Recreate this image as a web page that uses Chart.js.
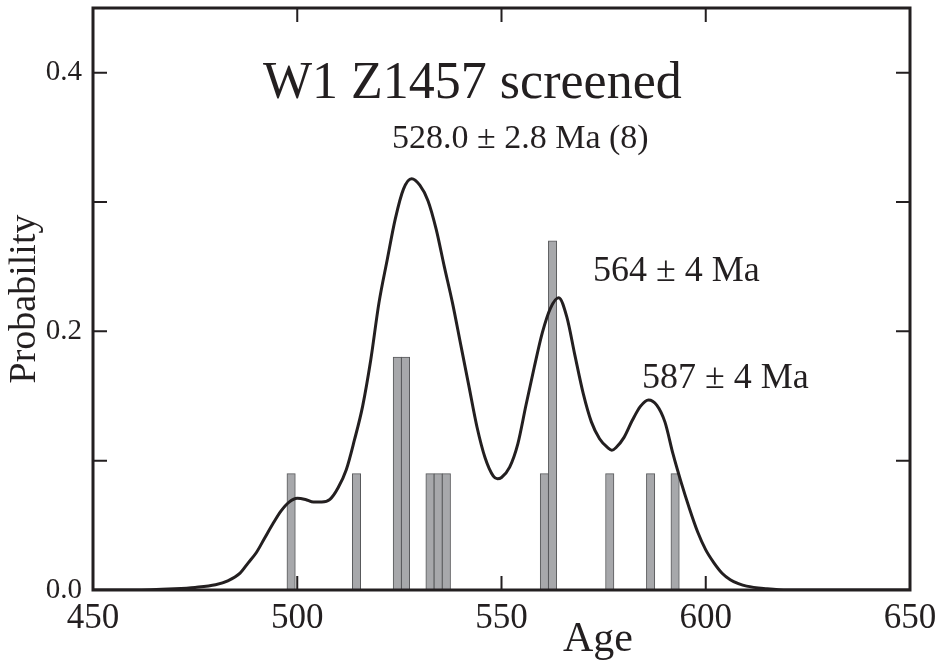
<!DOCTYPE html>
<html lang="en">
<head>
  <meta charset="UTF-8" />
  <title>W1 Z1457 screened</title>
  <script src="https://cdn.jsdelivr.net/npm/chart.js"></script>
  <style>
    body {
      margin: 0;
      background: #fff;
    }
    .wrap {
      width: 947px;
      height: 665px;
    }
  </style>
</head>
<body>
  <div class="wrap">
    <canvas id="ageChart"></canvas>
  </div>

  <script>
    // probability density curve
    const ages = [450, 460, 470, 475, 480, 483, 486, 488, 490, 492, 494, 496, 498, 500,
      502, 504, 506, 508, 510, 512, 514, 516, 518, 520, 522, 524, 526, 528, 530, 532,
      534, 536, 538, 540, 542, 544, 546, 548, 549, 550, 552, 554, 556, 558, 560, 562,
      564, 566, 568, 570, 572, 574, 576, 577, 578, 580, 582, 584, 586, 588, 590, 592, 594,
      596, 598, 600, 602, 604, 606, 608, 610, 615, 620, 650];
    const probability = [0, 0, 0.001, 0.002, 0.004, 0.007, 0.013, 0.021, 0.029, 0.040, 0.051, 0.061, 0.068, 0.071,
      0.070, 0.068, 0.068, 0.070, 0.079, 0.093, 0.116, 0.142, 0.178, 0.222, 0.255, 0.287, 0.310, 0.318, 0.313, 0.301,
      0.279, 0.250, 0.222, 0.190, 0.158, 0.126, 0.102, 0.088, 0.086, 0.087, 0.095, 0.113, 0.143, 0.172, 0.199, 0.218,
      0.226, 0.211, 0.181, 0.152, 0.130, 0.117, 0.110, 0.108, 0.110, 0.118, 0.131, 0.142, 0.147, 0.143, 0.130, 0.105, 0.083,
      0.063, 0.045, 0.031, 0.021, 0.013, 0.008, 0.005, 0.003, 0.001, 0, 0];

    // histogram bars (2 Ma bins)
    const binCenters = [498.5, 514.5, 524.5, 526.5, 532.5, 534.5, 536.5, 560.5, 562.5, 576.5, 586.5, 592.5];
    const binHeights = [0.09, 0.09, 0.18, 0.18, 0.09, 0.09, 0.09, 0.09, 0.27, 0.09, 0.09, 0.09];

    const xTicks = [450, 500, 550, 600, 650];
    const yTicks = [0, 0.1, 0.2, 0.3, 0.4];
    const yLabelled = [0, 0.2, 0.4];

    const ink = '#231f20';
    const serif = '"Liberation Serif", "Times New Roman", serif';

    // frame, inward ticks and the text notes
    const framePlugin = {
      id: 'frame',
      afterDatasetsDraw(chart) {
        const { ctx, chartArea: a, scales: { x, y } } = chart;
        ctx.save();
        ctx.strokeStyle = ink;
        ctx.lineWidth = 3;
        ctx.strokeRect(a.left, a.top, a.right - a.left, a.bottom - a.top);

        ctx.lineWidth = 2;
        ctx.beginPath();
        xTicks.forEach(v => {
          const px = x.getPixelForValue(v);
          ctx.moveTo(px, a.bottom); ctx.lineTo(px, a.bottom - 14);
          ctx.moveTo(px, a.top); ctx.lineTo(px, a.top + 14);
        });
        yTicks.forEach(v => {
          const py = y.getPixelForValue(v);
          ctx.moveTo(a.left, py); ctx.lineTo(a.left + 14, py);
          ctx.moveTo(a.right, py); ctx.lineTo(a.right - 14, py);
        });
        ctx.stroke();

        ctx.fillStyle = ink;
        ctx.textBaseline = 'alphabetic';
        ctx.textAlign = 'left';
        ctx.font = '52px ' + serif;
        ctx.fillText('W1 Z1457 screened', 263, 98);
        ctx.font = '34px ' + serif;
        ctx.fillText('528.0 \u00b1 2.8 Ma (8)', 392, 148);
        ctx.font = '36px ' + serif;
        ctx.fillText('564 \u00b1 4 Ma', 593, 281);
        ctx.fillText('587 \u00b1 4 Ma', 642, 388);
        ctx.font = '42px ' + serif;
        ctx.fillText('Age', 563, 651);
        ctx.restore();
      }
    };

    const curve = ages.map((a, i) => ({ x: a, y: probability[i] }));
    const bars = binCenters.map((c, i) => ({ x: c, y: binHeights[i] }));

    new Chart(document.getElementById('ageChart'), {
      data: {
        datasets: [
          {
            type: 'line',
            data: curve,
            borderColor: ink,
            borderWidth: 3,
            pointRadius: 0,
            cubicInterpolationMode: 'monotone',
            fill: false
          },
          {
            type: 'bar',
            data: bars,
            backgroundColor: '#a7a8ab',
            borderColor: '#58595b',
            borderWidth: 1,
            borderSkipped: false,
            barThickness: 8.4,
            grouped: false
          }
        ]
      },
      options: {
        responsive: true,
        maintainAspectRatio: false,
        animation: false,
        layout: { padding: { top: 8, right: 37, left: 0, bottom: 0 } },
        plugins: {
          legend: { display: false },
          tooltip: { enabled: false }
        },
        scales: {
          x: {
            type: 'linear',
            offset: false,
            min: 450,
            max: 650,
            grid: { display: false, drawTicks: false, offset: false },
            border: { display: false },
            afterBuildTicks: s => { s.ticks = xTicks.map(v => ({ value: v })); },
            afterFit: s => { s.height = 75; s.paddingLeft = 0; s.paddingRight = 0; },
            ticks: {
              padding: 8,
              maxRotation: 0,
              color: ink,
              font: { family: serif, size: 35 }
            }
          },
          y: {
            min: 0,
            max: 0.45,
            grid: { display: false, drawTicks: false },
            border: { display: false },
            afterBuildTicks: s => { s.ticks = yTicks.map(v => ({ value: v })); },
            afterFit: s => { s.width = 93; s.paddingTop = 0; s.paddingBottom = 0; },
            title: {
              display: true,
              text: 'Probability',
              color: ink,
              font: { family: serif, size: 38 },
              padding: { top: 2, bottom: 0 }
            },
            ticks: {
              padding: 11,
              color: ink,
              font: { family: serif, size: 29 },
              callback: v => yLabelled.some(t => Math.abs(t - v) < 1e-6) ? v.toFixed(1) : ''
            }
          }
        }
      },
      plugins: [framePlugin]
    });
  </script>
</body>
</html>
